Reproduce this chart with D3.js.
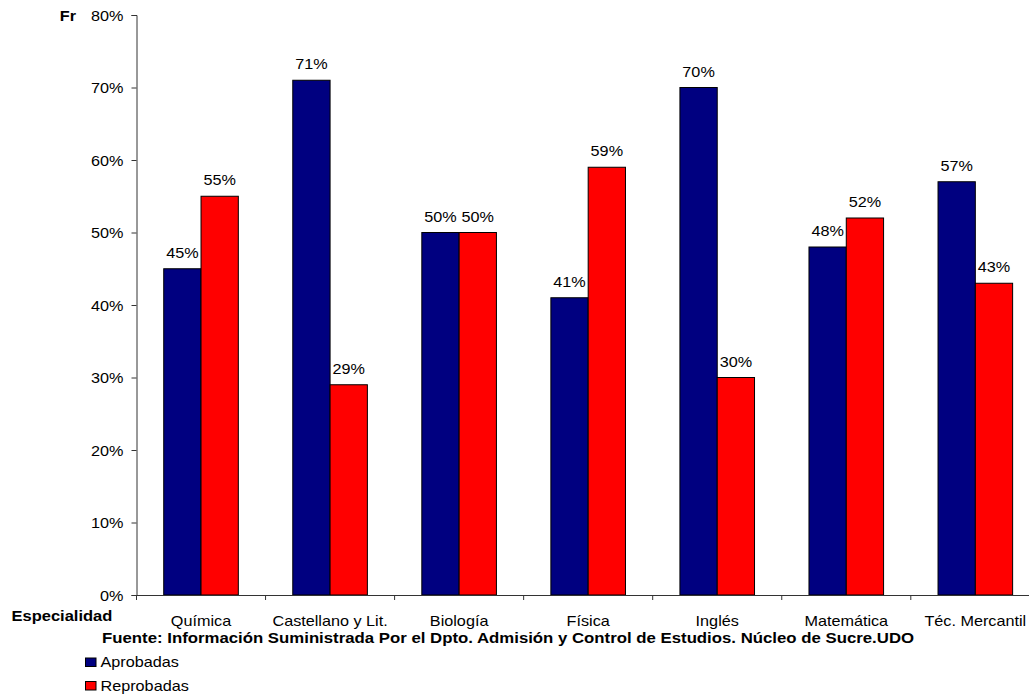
<!DOCTYPE html>
<html>
<head>
<meta charset="utf-8">
<script src="https://cdn.jsdelivr.net/npm/d3@7"></script>
<style>
  html, body { margin: 0; padding: 0; background: #fff; }
  svg { display: block; }
  text { font-family: "Liberation Sans", Arial, sans-serif; font-size: 15px; fill: #000; }
</style>
</head>
<body>
<svg id="chart" width="1029" height="696"></svg>
<script>
const categories = ["Química", "Castellano y Lit.", "Biología", "Física", "Inglés", "Matemática", "Téc. Mercantil"];
const aprobadas = [45, 71, 50, 41, 70, 48, 57];
const reprobadas = [55, 29, 50, 59, 30, 52, 43];
const seriesNames = ["Aprobadas", "Reprobadas"];
const seriesColors = ["#000080", "#FF0000"];
const yTicks = [0, 10, 20, 30, 40, 50, 60, 70, 80];

(function () {
const SX = 1.08; // horizontal stretch of text in the reference
const svg = d3.select("#chart");

const axisX = 136.5, plotTop = 15, plotBottom = 595;
const band = 129.05;
const y = d3.scaleLinear().domain([0, 80]).range([plotBottom, plotTop]);
const x = d3.scaleBand().domain(categories).range([axisX, axisX + band * categories.length]).padding(0);
const barW = band / 3.46;
const xs = d3.scaleBand().domain(seriesNames).range([0, 2 * barW]);

function label(g, px, py, str, anchor, bold, sx) {
  const t = g.append("g").attr("transform", `translate(${px},${py}) scale(${sx || SX},1)`)
    .append("text").attr("text-anchor", anchor || "start").text(str);
  if (bold) t.attr("font-weight", "bold");
  return t;
}

// bars
const series = [aprobadas, reprobadas];
const gBars = svg.append("g");
categories.forEach((c, i) => {
  const cx = x(c) + x.bandwidth() / 2;
  series.forEach((vals, s) => {
    const bx = cx - barW + xs(seriesNames[s]);
    gBars.append("rect")
      .attr("x", bx).attr("y", y(vals[i]))
      .attr("width", barW).attr("height", y(0) - y(vals[i]))
      .attr("fill", seriesColors[s]).attr("stroke", "#000").attr("stroke-width", 1);
    label(gBars, bx + barW / 2, y(vals[i]) - 11, vals[i] + "%", "middle");
  });
});

// y axis
const yAxis = svg.append("g").attr("transform", `translate(${axisX},0)`)
  .call(d3.axisLeft(y).tickValues(yTicks).tickSize(5).tickFormat(d => d + "%"));
yAxis.select(".domain").attr("stroke", "#333");
yAxis.selectAll(".tick line").attr("stroke", "#333");
yAxis.selectAll(".tick text").remove();
yTicks.forEach(v => label(svg, axisX - 13, y(v) + 5.5, v + "%", "end"));

// x axis
const xAxis = svg.append("g").attr("transform", `translate(0,${plotBottom})`)
  .call(d3.axisBottom(x).tickSize(0).tickFormat(""));
xAxis.select(".domain").attr("stroke", "#333");
const bounds = categories.map(c => x(c)).concat([x.range()[1]]);
xAxis.selectAll(".bnd").data(bounds).join("line").attr("class", "bnd")
  .attr("x1", d => d).attr("x2", d => d).attr("y1", 0).attr("y2", 5).attr("stroke", "#333");
categories.forEach(c => label(svg, x(c) + x.bandwidth() / 2, 626, c, "middle"));

// axis titles
label(svg, 76, 21, "Fr", "end", true);
label(svg, 11.5, 620.5, "Especialidad", "start", true, 1.1);
label(svg, 102, 643, "Fuente: Información Suministrada Por el Dpto. Admisión y Control de Estudios. Núcleo de Sucre.UDO", "start", true, 1.119);

// legend
seriesNames.forEach((n, i) => {
  const ly = 658 + i * 23.5;
  svg.append("rect").attr("x", 85.5).attr("y", ly).attr("width", 10.5).attr("height", 8.5)
    .attr("fill", seriesColors[i]).attr("stroke", "#000").attr("stroke-width", 1);
  label(svg, 100.5, ly + 9.2, n, "start");
});
})();
</script>
</body>
</html>
